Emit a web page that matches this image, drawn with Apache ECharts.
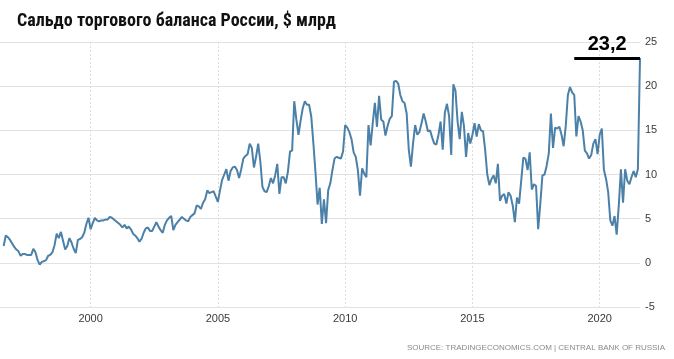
<!DOCTYPE html>
<html><head><meta charset="utf-8">
<script src="https://cdn.jsdelivr.net/npm/echarts@6/dist/echarts.min.js"></script>
<style>html,body{margin:0;padding:0;background:#fff}#c{width:674px;height:359px}</style>
</head><body><div id="c"></div>
<script>
const titleText = 'Сальдо торгового баланса России, $ млрд';
const sourceText = 'SOURCE: TRADINGECONOMICS.COM | CENTRAL BANK OF RUSSIA';
const startYear = 1996, startMonth = 8; // first monthly value: Aug 1996
// monthly trade balance, $ bn
const bal1996_2000 = [1.9,3.1,2.9,2.6,2.2,1.8,1.5,1.3,0.8,1.0,
  1.0,0.9,0.9,0.9,1.6,1.2,0.3,-0.2,0.1,0.2,
  0.3,0.8,0.9,1.2,2.0,3.3,2.8,3.5,2.5,1.5,
  1.9,2.8,2.3,1.6,1.1,2.6,2.7,2.9,3.4,4.4,
  5.1,3.8,4.5,5.1,4.8,4.7,4.8,4.8,4.9];
const bal2000_2004 = [4.9,5.2,5.1,4.9,4.7,4.5,4.3,4.0,4.3,3.9,4.1,
  3.8,3.3,3.1,2.8,2.4,2.7,3.4,3.9,4.0,3.6,
  3.6,4.1,4.6,4.1,3.7,3.4,4.3,4.8,5.1,5.3,
  3.7,4.3,4.6,4.9,5.2,5.0,4.8,4.7,5.2,5.4,
  5.6,6.5,6.4,6.1,6.8,7.2,8.2,7.9,8.0,8.1];
const bal2004_2008 = [7.5,6.9,8.2,9.4,10.0,10.6,9.3,10.4,10.8,10.9,
  10.5,9.6,10.6,11.8,12.1,12.3,13.5,13.0,10.8,12.0,
  13.5,11.5,8.6,8.1,8.0,8.7,9.6,9.0,9.9,11.2,
  7.8,9.7,9.7,9.0,10.3,12.6,12.7,18.3,16.2,14.5,
  16.1,17.5,18.3,17.9,17.9,16.6,13.6,10.3,6.6];
const bal2009_2012 = [8.5,4.4,7.2,4.5,8.2,9.0,10.5,11.8,12.0,11.9,
  11.8,12.6,15.6,15.3,14.8,14.0,12.5,12.0,10.5,7.6,
  10.7,10.1,9.7,15.6,13.3,15.8,18.1,15.4,18.9,16.2,
  16.0,14.4,15.5,16.3,16.6,20.5,20.6,20.3,19.0,18.3,
  18.1,16.9,12.8,10.9,13.5,15.6,14.5,14.8,15.8,16.9];
const bal2013_2016 = [16.0,14.9,15.0,14.2,13.5,13.4,14.5,16.0,12.8,17.0,
  18.0,16.6,12.2,20.2,19.5,16.0,14.0,17.1,15.5,12.0,
  14.7,13.5,14.5,15.8,14.3,15.7,15.0,14.9,12.8,10.0,
  8.8,9.5,9.9,9.0,11.2,7.0,7.6,7.8,6.7,8.0,
  7.6,6.5,4.6,7.4,6.7,9.3,11.9,11.8,10.5,12.5];
const bal2017_2021 = [8.3,8.9,8.7,3.8,6.7,9.9,10.0,11.0,12.4,16.9,
  13.0,15.3,15.2,15.4,14.5,13.2,15.5,19.0,19.9,19.3,
  19.0,14.3,16.6,16.0,15.0,12.7,12.4,11.8,12.2,13.5,
  14.0,12.3,14.5,15.2,10.5,9.5,8.0,4.8,4.2,5.3,
  3.2,6.5,10.6,6.8,10.6,9.3,8.9,9.7,10.4,9.7,
  10.6,23.2];
const yearTicks = [2000, 2005, 2010, 2015, 2020];
const yMin = -5, yMax = 25, yStep = 5;
const xStart = 1996.44;       // left edge of the plotted window
const calloutFromYear = 2019; // start of the black callout bar

const balance = [].concat(bal1996_2000, bal2000_2004, bal2004_2008, bal2009_2012, bal2013_2016, bal2017_2021);
const data = balance.map((v, i) => [startYear + (startMonth - 1 + i) / 12, v]);
const last = data[data.length - 1];

const font = "'Liberation Sans', Arial, sans-serif";
const narrow = "'Liberation Sans Narrow', 'Arial Narrow', 'Roboto Condensed', 'Liberation Sans', sans-serif";
const chart = echarts.init(document.getElementById('c'), null, {renderer: 'canvas'});
chart.setOption({
  animation: false,
  backgroundColor: '#fff',
  title: [
    {text: titleText, left: 12, top: 7,
     textStyle: {fontFamily: narrow, fontSize: 18, fontWeight: 'bold', color: '#111'}},
    {text: sourceText, right: 4, bottom: 2,
     textStyle: {fontFamily: font, fontSize: 8, fontWeight: 'normal', color: '#8a8a8a'}}
  ],
  grid: {left: 0, right: 34, top: 42, bottom: 52},
  xAxis: {
    type: 'value', min: xStart, max: last[0],
    axisLine: {show: false},
    axisTick: {show: false, customValues: yearTicks},
    axisLabel: {customValues: yearTicks, margin: 6, fontFamily: font, fontSize: 11, color: '#3a3a3a',
      formatter: v => String(Math.round(v))},
    splitLine: {show: true, lineStyle: {color: '#dcdcdc', type: [2, 2], width: 1}}
  },
  yAxis: {
    type: 'value', position: 'right', min: yMin, max: yMax, interval: yStep,
    axisLine: {show: false}, axisTick: {show: false},
    axisLabel: {margin: 5, fontFamily: font, fontSize: 11, color: '#3a3a3a'},
    splitLine: {show: true, lineStyle: {color: '#e2e2e2', width: 1}}
  },
  series: [{
    type: 'line', data: data, showSymbol: false, symbol: 'none',
    lineStyle: {color: '#4b80a8', width: 2}, z: 3,
    markLine: {
      silent: true, symbol: 'none',
      lineStyle: {color: '#000', width: 3, type: 'solid'},
      label: {show: true, position: 'middle', distance: 3,
        formatter: () => String(last[1]).replace('.', ','),
        fontFamily: font, fontSize: 20, fontWeight: 'bold', color: '#000'},
      data: [[{coord: [calloutFromYear, last[1]]}, {coord: [last[0], last[1]]}]]
    }
  }]
});
</script></body></html>
